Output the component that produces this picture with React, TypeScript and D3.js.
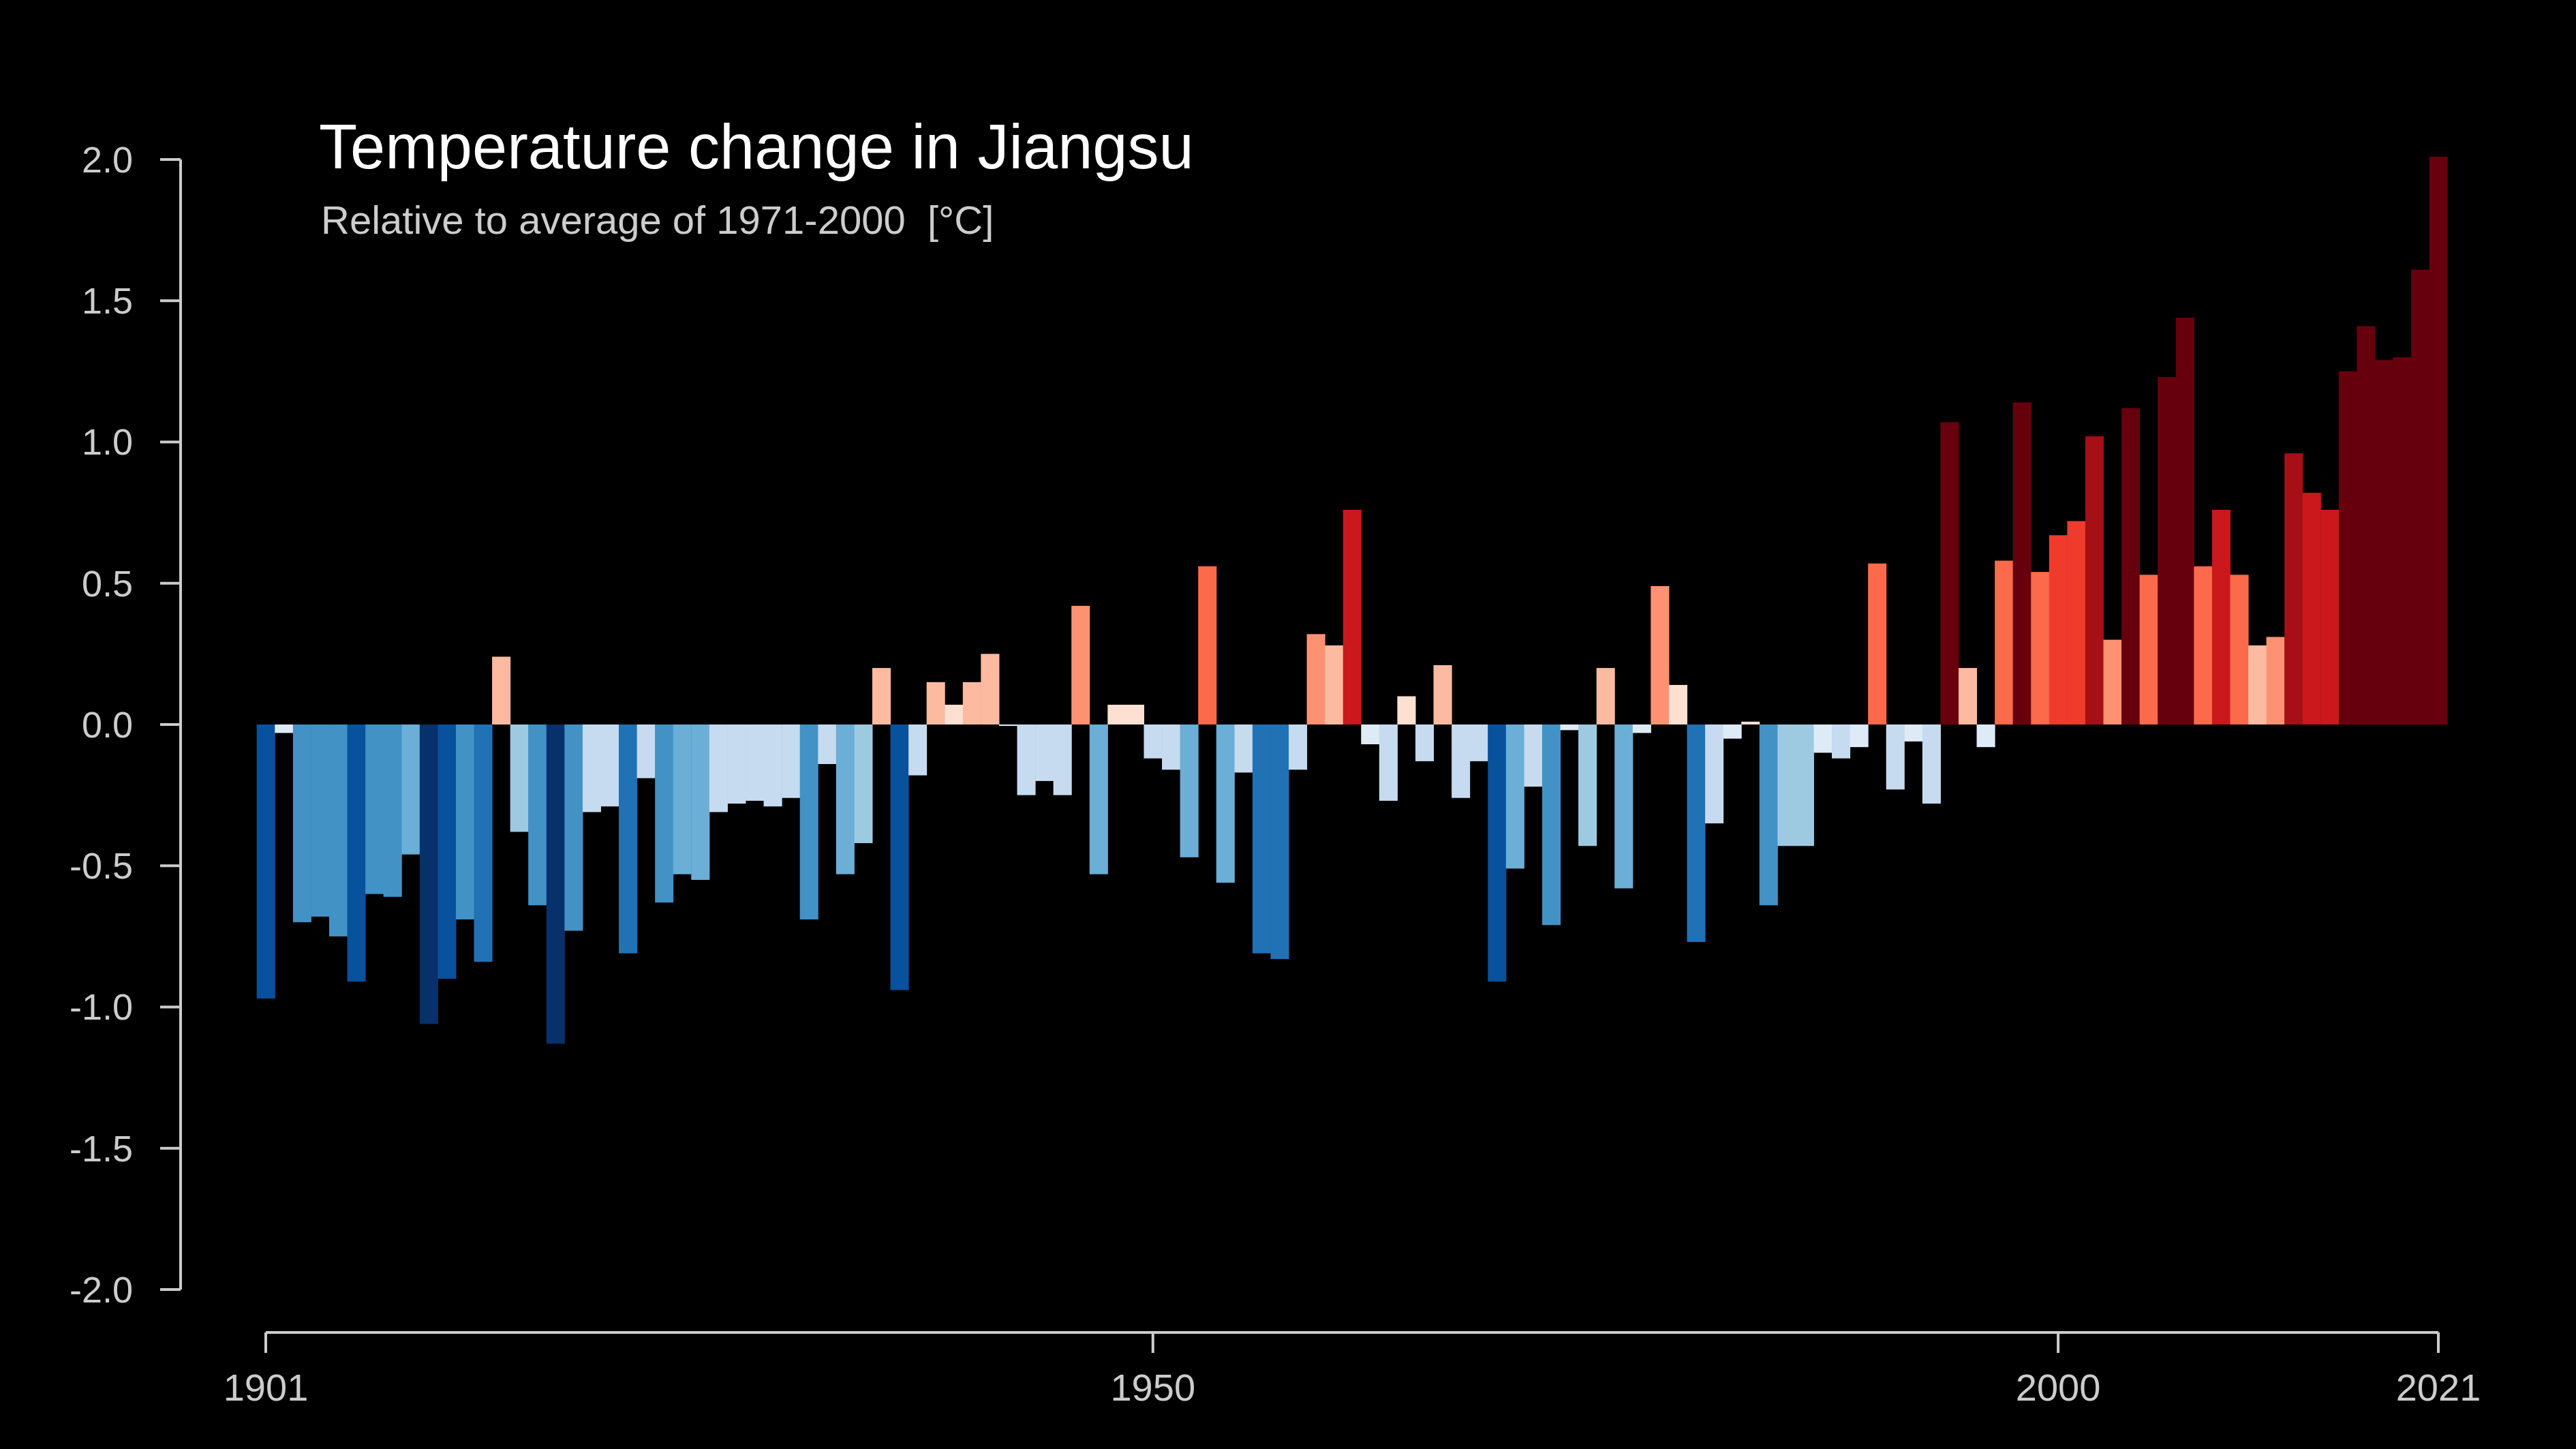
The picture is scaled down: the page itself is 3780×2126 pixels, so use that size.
import React from "react";
import * as d3 from "d3";

const startYear = 1901;
const anomalies = [
  -0.97, -0.03, -0.70, -0.68, -0.75, -0.91, -0.60, -0.61, -0.46, -1.06,
  -0.90, -0.69, -0.84, 0.24, -0.38, -0.64, -1.13, -0.73, -0.31, -0.29,
  -0.81, -0.19, -0.63, -0.53, -0.55, -0.31, -0.28, -0.27, -0.29, -0.26,
  -0.69, -0.14, -0.53, -0.42, 0.20, -0.94, -0.18, 0.15, 0.07, 0.15,
  0.25, -0.005, -0.25, -0.20, -0.25, 0.42, -0.53, 0.07, 0.07, -0.12,
  -0.16, -0.47, 0.56, -0.56, -0.17, -0.81, -0.83, -0.16, 0.32, 0.28,
  0.76, -0.07, -0.27, 0.10, -0.13, 0.21, -0.26, -0.13, -0.91, -0.51,
  -0.22, -0.71, -0.02, -0.43, 0.20, -0.58, -0.03, 0.49, 0.14, -0.77,
  -0.35, -0.05, 0.01, -0.64, -0.43, -0.43, -0.10, -0.12, -0.08, 0.57,
  -0.23, -0.06, -0.28, 1.07, 0.20, -0.08, 0.58, 1.14, 0.54, 0.67,
  0.72, 1.02, 0.30, 1.12, 0.53, 1.23, 1.44, 0.56, 0.76, 0.53,
  0.28, 0.31, 0.96, 0.82, 0.76, 1.25, 1.41, 1.29, 1.30, 1.61,
  2.01,
];
const yTicks = [2.0, 1.5, 1.0, 0.5, 0.0, -0.5, -1.0, -1.5, -2.0];
const xTicks = [1901, 1950, 2000, 2021];
const colorThresholds = [-1.0, -0.85, -0.75, -0.59, -0.44, -0.35, -0.1, 0, 0.15, 0.3, 0.5, 0.65, 0.75, 0.95, 1.05];
const colorRange = [
  "#08306b", "#08519c", "#2171b5", "#4292c6", "#6baed6", "#9ecae1", "#c6dbef", "#deebf7",
  "#fee0d2", "#fcbba1", "#fc9272", "#fb6a4a", "#ef3b2c", "#cb181d", "#a50f15", "#67000d",
];

export default function App() {
  const W = 3780, H = 2126;
  const x = d3.scaleLinear().domain([1901, 2021]).range([390, 3578]);
  const y = d3.scaleLinear().domain([-2, 2]).range([1892, 234]);
  const color = d3.scaleThreshold<number, string>().domain(colorThresholds).range(colorRange);
  const step = x(1902) - x(1901);
  const axisColor = "#cccccc";
  const font = "'Liberation Sans', Arial, sans-serif";
  return (
    <svg width={W} height={H} style={{ position: "absolute", left: 0, top: 0, background: "#000" }}>
      <rect width={W} height={H} fill="#000" />
      {anomalies.map((v, i) => {
        const yr = startYear + i;
        const y0 = y(Math.max(0, v));
        const y1 = y(Math.min(0, v));
        return (
          <rect key={yr} x={x(yr) - step / 2} width={step + 0.5} y={y0} height={Math.max(0.5, y1 - y0)} fill={color(v)} />
        );
      })}
      <line x1={265} x2={265} y1={y(2)} y2={y(-2)} stroke={axisColor} strokeWidth={4} />
      {yTicks.map((t) => (
        <g key={t}>
          <line x1={235} x2={265} y1={y(t)} y2={y(t)} stroke={axisColor} strokeWidth={4} />
          <text x={195} y={y(t)} dy="0.35em" textAnchor="end" fill={axisColor} fontSize={54} fontFamily={font}>
            {t.toFixed(1)}
          </text>
        </g>
      ))}
      <line x1={x(1901)} x2={x(2021)} y1={1955} y2={1955} stroke={axisColor} strokeWidth={4} />
      {xTicks.map((t) => (
        <g key={t}>
          <line x1={x(t)} x2={x(t)} y1={1955} y2={1985} stroke={axisColor} strokeWidth={4} />
          <text x={x(t)} y={2055} textAnchor="middle" fill={axisColor} fontSize={56} fontFamily={font}>
            {t}
          </text>
        </g>
      ))}
      <text x={468} y={247} fill="#ffffff" fontSize={92} fontFamily={font}>
        Temperature change in Jiangsu
      </text>
      <text x={471} y={343} fill={axisColor} fontSize={58} fontFamily={font} xmlSpace="preserve">
        Relative to average of 1971-2000  [°C]
      </text>
    </svg>
  );
}
